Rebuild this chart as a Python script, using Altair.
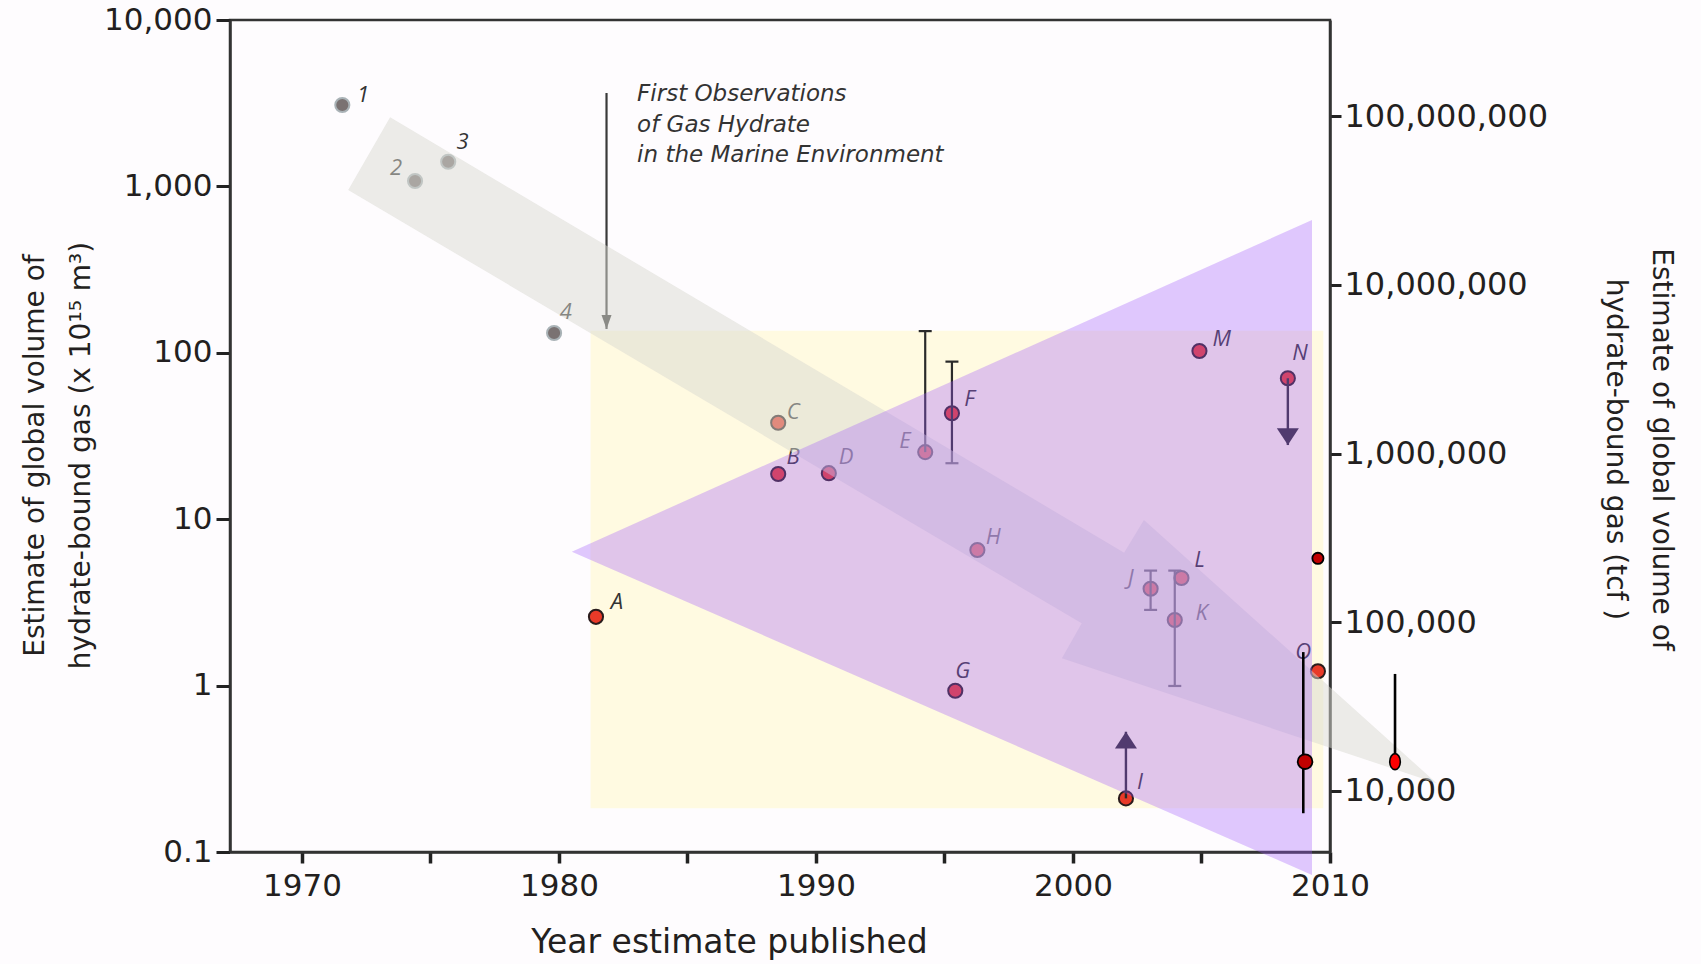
import altair as alt
import pandas as pd

# ---------------- data ----------------
# published estimates (year, global hydrate-bound gas volume in 1e15 m^3)
est_labels = ["1", "2", "3", "4", "A", "B", "C", "D", "E", "F", "G", "H", "I", "J", "K", "L", "M", "N", ""]
est_years = [1971.57, 1974.40, 1975.69, 1979.81, 1981.44, 1988.53, 1988.53, 1990.50, 1994.25, 1995.29,
             1995.42, 1996.28, 2002.06, 2003.02, 2003.96, 2004.22, 2004.92, 2008.36, 2009.53]
est_values = [3083, 1078, 1407, 131.5, 2.59, 18.7, 38.0, 18.9, 25.3, 43.3,
              0.931, 6.53, 0.210, 3.82, 2.48, 4.43, 102.5, 70.3, 1.22]
est_group = ["early"] * 4 + ["later"] * 15

# letter / number tags next to the estimates
tag_text = ["1", "2", "3", "4", "A", "B", "C", "D", "E", "F", "G", "H", "I", "J", "K", "L", "M", "N", "O"]
tag_years = [1972.38, 1973.66, 1976.25, 1980.27, 1982.25, 1989.11, 1989.11, 1991.17, 1993.46, 1995.97,
             1995.71, 1996.90, 2002.61, 2002.25, 2005.01, 2004.92, 2005.79, 2008.83, 2008.96]
tag_values = [3541, 1290, 1857, 175.9, 3.19, 23.6, 44.1, 23.6, 29.6, 52.6,
              1.23, 7.85, 0.264, 4.42, 2.72, 5.69, 120.6, 99.3, 1.59]

# ranges (error bars)
err_years = [1994.25, 1995.29, 2003.02, 2003.96]
err_low = [25.3, 21.7, 2.85, 0.995]
err_high = [135, 88.5, 4.91, 4.91]
cap_years = [1994.25, 1995.29, 1995.29, 2003.02, 2003.02, 2003.96, 2003.96]
cap_values = [135, 88.5, 21.7, 4.91, 2.85, 4.91, 0.995]

# limit arrows (lower bound I, upper bound N)
lim_years = [2002.06, 2008.36]
lim_from = [0.210, 70.3]
lim_to = [0.528, 27.9]
lim_dir = ["up", "down"]

# recent estimates in red
new_years = [2009.03, 2009.53, 2012.53]
new_values = [0.349, 5.82, 0.349]
new_kind = ["big", "small", "oval"]
vline_years = [2008.96, 2012.53]
vline_low = [0.171, 0.349]
vline_high = [1.59, 1.175]

# shaded regions
yellow_years = [1981.23, 2009.74]
yellow_values = [0.183, 135.8]
purple_years = [1980.50, 2009.30]
purple_upper = [6.38, 628]
purple_lower = [6.38, 0.0728]
trend_years = [1971.80, 1973.43, 2001.99, 2002.76, 2014.15, 1999.57, 2000.34]
trend_values = [951, 2602, 6.29, 9.89, 0.259, 1.46, 2.37]

# annotation
obs_year = [1981.85]
obs_top = [3641]
obs_tip = [139]
note_lines = ["First Observations", "of Gas Hydrate", "in the Marine Environment"]
note_year = [1983.04, 1983.04, 1983.04]
note_values = [3573, 2346, 1542]

x_ticks = [1970, 1975, 1980, 1985, 1990, 1995, 2000, 2005, 2010]
y_ticks = [0.1, 1, 10, 100, 1000, 10000]
tcf_ticks = [1e4, 1e5, 1e6, 1e7, 1e8]

# ---------------- chart ----------------
XS = alt.Scale(domain=[1967.2, 2010], nice=False, zero=False)
YS = alt.Scale(type="log", domain=[0.1, 10000], nice=False)
TS = alt.Scale(type="log", domain=[4350, 3.707e8], nice=False)

AX_FONT = "DejaVu Sans"

x_axis = alt.Axis(orient="bottom", values=x_ticks,
                  labelExpr="datum.value % 10 == 0 ? '' + datum.value : ''",
                  grid=False, domainColor="#333333", domainWidth=2.5, tickColor="#222222",
                  tickWidth=3.5, tickSize=11, labelFont=AX_FONT, labelFontSize=31,
                  labelColor="#231f20", labelPadding=8, labelOverlap=False, labelFlush=False,
                  labelLimit=0,
                  title="Year estimate published", titleFont=AX_FONT, titleFontSize=33,
                  titleFontWeight="normal", titleColor="#231f20", titleX=499, titleY=100,
                  titleAlign="center", titleBaseline="alphabetic")

y_axis = alt.Axis(orient="left", values=y_ticks, format=",~g", grid=False, domainColor="#333333",
                  domainWidth=2.5, tickColor="#222222", tickWidth=3, tickSize=14,
                  labelFont=AX_FONT, labelFontSize=31,
                  labelColor="#231f20", labelPadding=4, labelOverlap=False, labelFlush=False,
                  labelLimit=0,
                  title=["Estimate of global volume of", "hydrate-bound gas (x 10\u00b9\u2075 m\u00b3)"],
                  titleFont=AX_FONT, titleFontSize=28, titleFontWeight="normal", titleColor="#231f20",
                  titleAngle=270, titleX=-195, titleY=435, titleAlign="center",
                  titleBaseline="middle", titleLineHeight=46)

tcf_axis = alt.Axis(orient="right", values=tcf_ticks, format=",d", grid=False, domainColor="#333333",
                    domainWidth=2.5, tickColor="#222222", tickWidth=3, tickSize=11,
                    labelFont=AX_FONT, labelFontSize=32, labelColor="#231f20", labelPadding=3,
                    labelOverlap=False, labelFlush=False, labelLimit=0,
                    title=["Estimate of global volume of", "hydrate-bound gas (tcf )"],
                    titleFont=AX_FONT, titleFontSize=28, titleFontWeight="normal",
                    titleColor="#231f20", titleAngle=90, titleX=330, titleY=429,
                    titleAlign="center", titleBaseline="middle", titleLineHeight=46)


def xq(field):
    return alt.X(f"{field}:Q", scale=XS, axis=None)


def yq(field):
    return alt.Y(f"{field}:Q", scale=YS, axis=None)


UP = "M 0 0 L 1 1.52 L -1 1.52 Z"
DOWN = "M 0 0 L 1 -1.52 L -1 -1.52 Z"
NARROW_DOWN = "M 0 0 L 1 -2.8 L -1 -2.8 Z"
OVAL = "M -0.66 0 A 0.66 1 0 1 0 0.66 0 A 0.66 1 0 1 0 -0.66 0 Z"

# invisible layer that carries the x axis and the left y axis
axis_df = pd.DataFrame({"year": [x_ticks[0], x_ticks[-1]], "value": [y_ticks[0], y_ticks[-1]]})
axes = alt.Chart(axis_df).mark_point(opacity=0).encode(
    x=alt.X("year:Q", scale=XS, axis=x_axis),
    y=alt.Y("value:Q", scale=YS, axis=y_axis))

yellow_df = pd.DataFrame({"x1": [yellow_years[0]], "x2": [yellow_years[1]],
                          "y1": [yellow_values[0]], "y2": [yellow_values[1]]})
yellow = alt.Chart(yellow_df).mark_rect(color="#fffae1").encode(
    x=xq("x1"), x2="x2", y=yq("y1"), y2="y2")

pts_df = pd.DataFrame({"label": est_labels, "year": est_years, "value": est_values, "group": est_group})
early_pts = alt.Chart(pts_df).transform_filter("datum.group == 'early'").mark_circle(
    size=200, strokeWidth=2, opacity=1, fill="#7a7272", stroke="#a9b2b6").encode(
    x=xq("year"), y=yq("value"))
later_pts = alt.Chart(pts_df).transform_filter("datum.group == 'later'").mark_circle(
    size=200, strokeWidth=2, opacity=1, fill="#e83a28", stroke="#2a1c1c").encode(
    x=xq("year"), y=yq("value"))

err_df = pd.DataFrame({"year": err_years, "low": err_low, "high": err_high})
err = alt.Chart(err_df).mark_rule(strokeWidth=2.2, color="#2a2a2a").encode(
    x=xq("year"), y=yq("low"), y2="high")
cap_df = pd.DataFrame({"year": cap_years, "value": cap_values})
caps = alt.Chart(cap_df).mark_rule(strokeWidth=2.2, color="#2a2a2a", xOffset=-6.5, x2Offset=6.5).encode(
    x=xq("year"), x2="year", y=yq("value"))

lim_df = pd.DataFrame({"year": lim_years, "start": lim_from, "end": lim_to, "dir": lim_dir})
lim_lines = alt.Chart(lim_df).mark_rule(strokeWidth=2.4, color="#2a2a2a").encode(
    x=xq("year"), y=yq("start"), y2="end")
head_up = alt.Chart(lim_df).transform_filter("datum.dir == 'up'").mark_point(
    filled=True, size=484, strokeWidth=0, color="#2a2a2a", opacity=1, shape=UP).encode(
    x=xq("year"), y=yq("end"))
head_down = alt.Chart(lim_df).transform_filter("datum.dir == 'down'").mark_point(
    filled=True, size=484, strokeWidth=0, color="#2a2a2a", opacity=1, shape=DOWN).encode(
    x=xq("year"), y=yq("end"))

obs_df = pd.DataFrame({"year": obs_year, "top": obs_top, "tip": obs_tip})
obs_line = alt.Chart(obs_df).mark_rule(strokeWidth=2.2, color="#3a3a3a").encode(
    x=xq("year"), y=yq("top"), y2="tip")
obs_head = alt.Chart(obs_df).mark_point(filled=True, size=100, strokeWidth=0, color="#3a3a3a",
                                        opacity=1, shape=NARROW_DOWN).encode(x=xq("year"), y=yq("tip"))

tag_df = pd.DataFrame({"text": tag_text, "year": tag_years, "value": tag_values})
tags = alt.Chart(tag_df).mark_text(font="Open Sans", fontStyle="italic", fontSize=22, color="#333333",
                                   align="center", baseline="middle").encode(
    x=xq("year"), y=yq("value"), text="text:N")

trend_df = pd.DataFrame({"i": list(range(len(trend_years))), "year": trend_years, "value": trend_values})
trend = alt.Chart(trend_df).mark_line(filled=True, color="#dadad2", opacity=0.5, strokeWidth=0).encode(
    x=xq("year"), y=yq("value"), order="i:Q")

purple_df = pd.DataFrame({"year": purple_years, "upper": purple_upper, "lower": purple_lower})
purple = alt.Chart(purple_df).mark_area(color="#a25afc", opacity=0.33).encode(
    x=xq("year"), y=yq("upper"), y2="lower")

vl_df = pd.DataFrame({"year": vline_years, "low": vline_low, "high": vline_high})
vlines = alt.Chart(vl_df).mark_rule(strokeWidth=2.6, color="#000000").encode(
    x=xq("year"), y=yq("low"), y2="high")

new_df = pd.DataFrame({"year": new_years, "value": new_values, "kind": new_kind})
new_big = alt.Chart(new_df).transform_filter("datum.kind == 'big'").mark_point(
    filled=True, shape="circle", size=216, fill="#c00000", stroke="#000000", strokeWidth=1.8,
    opacity=1).encode(x=xq("year"), y=yq("value"))
new_small = alt.Chart(new_df).transform_filter("datum.kind == 'small'").mark_point(
    filled=True, shape="circle", size=125, fill="#c00000", stroke="#000000", strokeWidth=1.8,
    opacity=1).encode(x=xq("year"), y=yq("value"))
new_oval = alt.Chart(new_df).transform_filter("datum.kind == 'oval'").mark_point(
    filled=True, shape=OVAL, size=256, fill="#ff0000", stroke="#000000", strokeWidth=1.6,
    opacity=1).encode(x=xq("year"), y=yq("value"))

note_df = pd.DataFrame({"text": note_lines, "year": note_year, "value": note_values})
note = alt.Chart(note_df).mark_text(font="DejaVu Sans", fontStyle="italic", fontSize=23, color="#333333",
                                    align="left", baseline="middle").encode(
    x=xq("year"), y=yq("value"), text="text:N")

tcf_df = pd.DataFrame({"tcf": tcf_ticks})
tcf = alt.Chart(tcf_df).mark_point(opacity=0).encode(
    y=alt.Y("tcf:Q", scale=TS, axis=tcf_axis))

chart = alt.layer(axes, yellow, early_pts, later_pts, err, caps, lim_lines, head_up, head_down,
                  obs_line, obs_head, tags, trend, purple, vlines, new_big, new_small, new_oval,
                  note, tcf).resolve_scale(x="independent", y="independent").properties(
    width=1100, height=832,
    autosize=alt.AutoSizeParams(type="none"),
    padding={"left": 230, "top": 20, "right": 371, "bottom": 112},
    background="#fefcfe",
).configure_view(stroke="#333333", strokeWidth=2.5)

chart.save("out.html", embed_options={"renderer": "svg", "actions": False})
